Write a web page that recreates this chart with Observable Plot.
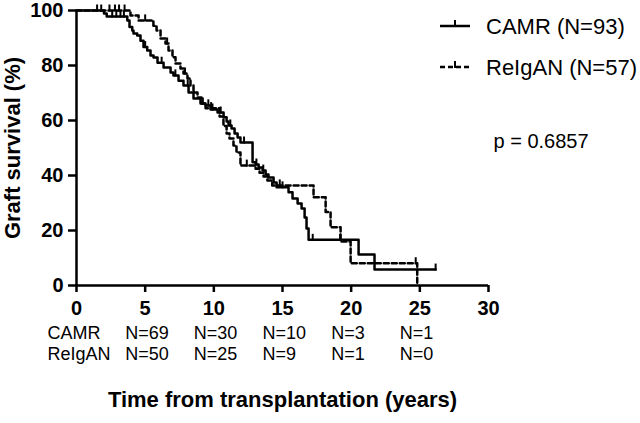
<!DOCTYPE html>
<html><head><meta charset="utf-8">
<script src="https://cdn.jsdelivr.net/npm/d3@7"></script>
<script src="https://cdn.jsdelivr.net/npm/@observablehq/plot@0.6"></script>
<style>body{margin:0;background:#fff}</style>
</head><body><div id="chart"></div>
<script>
// ---- data ----
const camrTime = [0, 2.0, 2.2, 3.7, 3.86, 4.06, 4.15, 4.42, 4.66, 4.88, 5.15, 5.39, 5.61, 5.9, 6.34, 6.85, 7.06, 7.43, 7.79, 8.16, 8.52, 9.03, 9.4, 9.76, 10.27, 10.71, 10.93, 11.07, 11.29, 11.51, 11.73, 11.94, 12.82, 13.04, 13.26, 13.55, 13.77, 13.98, 14.35, 14.57, 15.44, 15.73, 16.1, 16.39, 16.61, 16.75, 16.9, 20.54, 21.7, 26.15];
const camrSurv = [100, 98.9, 97.8, 96.4, 94, 92.7, 91.6, 90.9, 89, 86.7, 85.5, 83.6, 82.9, 81, 79.3, 77.5, 76.4, 74.5, 72.7, 70.2, 68, 66.2, 65.5, 64, 62.9, 61.2, 59.6, 58.2, 57.1, 55.3, 53.8, 52, 44.8, 44, 42.9, 41.8, 40.4, 39.3, 37.5, 35.7, 33.9, 31.6, 29.8, 28, 24.7, 20.7, 16.6, 11.3, 5.8, 5.8];
const camrCensor = [1.5, 2.6, 2.9, 3.2, 3.45, 5.0, 6.2, 7.2, 8.1, 9.2, 9.6, 9.9, 10.5, 11.2, 12.2, 13.1, 13.6, 15.0, 17.2, 19.2, 26.15];

const igaTime = [0, 3.93, 4.52, 5.6, 5.83, 6.12, 6.48, 6.7, 6.99, 7.21, 7.57, 7.79, 8.08, 8.3, 8.52, 8.81, 9.1, 9.4, 10.42, 10.7, 10.93, 11.14, 11.43, 11.65, 11.94, 13.04, 13.33, 13.62, 13.9, 14.25, 17.26, 18.14, 18.5, 19.23, 19.96, 24.81];
const igaSurv = [100, 98.2, 96.4, 94.5, 92.7, 89.8, 88, 85.5, 83, 80.7, 78.9, 77.1, 75.3, 72.7, 70.2, 68.4, 66.2, 64.5, 61.5, 58, 55.3, 53.5, 50.9, 48.4, 43.6, 42.5, 41, 39.6, 38.2, 36.4, 32.1, 26.7, 21.2, 16, 8.1, 0];
const igaCensor = [1.8, 2.4, 2.8, 3.1, 3.5, 5.0, 6.6, 7.9, 9.8, 12.4, 14.8, 24.7];

const groups = ["CAMR", "ReIgAN"];
const groupN = [93, 57];
const xTicks = [0, 5, 10, 15, 20, 25, 30];
const yTicks = [0, 20, 40, 60, 80, 100];
const riskTimes = [5, 10, 15, 20, 25];
const camrRisk = [69, 30, 10, 3, 1];
const igaRisk = [50, 25, 9, 1, 0];
const pText = "p = 0.6857";
const xTitle = "Time from transplantation (years)";
const yTitle = "Graft survival (%)";

// ---- derived tables ----
const toLine = (T, S) => T.map((t, i) => ({t, s: S[i]}));
const survAt = (T, S, t) => S[Math.max(0, d3.bisectRight(T, t) - 1)];
const toCensor = (C, T, S) => C.map(t => ({t, s: survAt(T, S, t)}));
const camrLine = toLine(camrTime, camrSurv);
const igaLine = toLine(igaTime, igaSurv);
const camrC = toCensor(camrCensor, camrTime, camrSurv);
const igaC = toCensor(igaCensor, igaTime, igaSurv);
const camrRow = riskTimes.map((t, i) => ({t, label: "N=" + camrRisk[i]}));
const igaRow = riskTimes.map((t, i) => ({t, label: "N=" + igaRisk[i]}));

const FONT = "'Liberation Sans', Arial, Helvetica, sans-serif";
const censorSymbol = {draw(ctx) { ctx.moveTo(0, 1); ctx.lineTo(0, -6); }};
const DASH = "5,3";

function legend(index, scales, values, dims) {
  const g = d3.create("svg:g").attr("font-family", FONT).attr("font-size", 22)
    .attr("font-weight", "normal").attr("text-anchor", "start");
  const x0 = dims.width - dims.marginRight;
  const rows = [{y: 26, dash: null}, {y: 67, dash: DASH}];
  rows.forEach((r, i) => {
    const line = g.append("line").attr("x1", x0 - 48).attr("x2", x0 - 18)
      .attr("y1", r.y).attr("y2", r.y).attr("stroke", "black").attr("stroke-width", 2.5);
    if (r.dash) line.attr("stroke-dasharray", r.dash);
    g.append("line").attr("x1", x0 - 33).attr("x2", x0 - 33)
      .attr("y1", r.y + 1).attr("y2", r.y - 6).attr("stroke", "black").attr("stroke-width", 2);
    g.append("text").attr("x", x0 - 2).attr("y", r.y).attr("dy", "0.35em")
      .attr("fill", "black").text(`${groups[i]} (N=${groupN[i]})`);
  });
  return g.node();
}

const axes = Plot.axisX ? [
  Plot.axisX({ticks: xTicks, tickSize: 7, tickPadding: 8, fontSize: 20, fontWeight: "bold", strokeWidth: 2.5, label: null}),
  Plot.axisY({ticks: yTicks, tickSize: 8, tickPadding: 5, fontSize: 20, fontWeight: "bold", strokeWidth: 2.5, label: null})
] : [];

const chart = Plot.plot({
  width: 640,
  height: 423,
  marginLeft: 76,
  marginRight: 152,
  marginTop: 10,
  marginBottom: 138,
  style: {fontFamily: FONT, background: "white", color: "black", fontWeight: "bold", fontSize: "20px", overflow: "visible"},
  x: {domain: [0, 30], ticks: xTicks, label: null, tickSize: 7, tickPadding: 8},
  y: {domain: [0, 100], ticks: yTicks, label: null, tickSize: 8, tickPadding: 5},
  marks: [
    ...axes,
    Plot.ruleX([0], {strokeWidth: 2.5, stroke: "black"}),
    Plot.ruleY([0], {strokeWidth: 2.5, stroke: "black"}),
    Plot.line(camrLine, {x: "t", y: "s", curve: "step-after", stroke: "black", strokeWidth: 2.5}),
    Plot.line(igaLine, {x: "t", y: "s", curve: "step-after", stroke: "black", strokeWidth: 2.5, strokeDasharray: DASH}),
    Plot.dot(camrC, {x: "t", y: "s", symbol: censorSymbol, stroke: "black", fill: "none", strokeWidth: 2}),
    Plot.dot(igaC, {x: "t", y: "s", symbol: censorSymbol, stroke: "black", fill: "none", strokeWidth: 2}),
    Plot.text([groups[0]], {frameAnchor: "bottom-left", dx: -29, dy: 53, textAnchor: "start", fontSize: 18, fontWeight: "normal", fill: "black"}),
    Plot.text([groups[1]], {frameAnchor: "bottom-left", dx: -29, dy: 74, textAnchor: "start", fontSize: 18, fontWeight: "normal", fill: "black"}),
    Plot.text(camrRow, {x: "t", text: "label", frameAnchor: "bottom", dx: -20, dy: 53, textAnchor: "start", fontSize: 18, fontWeight: "normal", fill: "black"}),
    Plot.text(igaRow, {x: "t", text: "label", frameAnchor: "bottom", dx: -20, dy: 74, textAnchor: "start", fontSize: 18, fontWeight: "normal", fill: "black"}),
    Plot.text([xTitle], {frameAnchor: "bottom", dy: 121, textAnchor: "middle", fontSize: 22, fontWeight: "bold", fill: "black"}),
    Plot.text([yTitle], {frameAnchor: "left", dx: -64, rotate: -90, textAnchor: "middle", fontSize: 22, fontWeight: "bold", fill: "black"}),
    Plot.text([pText], {frameAnchor: "top-right", dx: 5, dy: 123, textAnchor: "start", fontSize: 20, fontWeight: "normal", fill: "black"}),
    legend
  ]
});
document.getElementById("chart").appendChild(chart);
</script>
</body></html>
